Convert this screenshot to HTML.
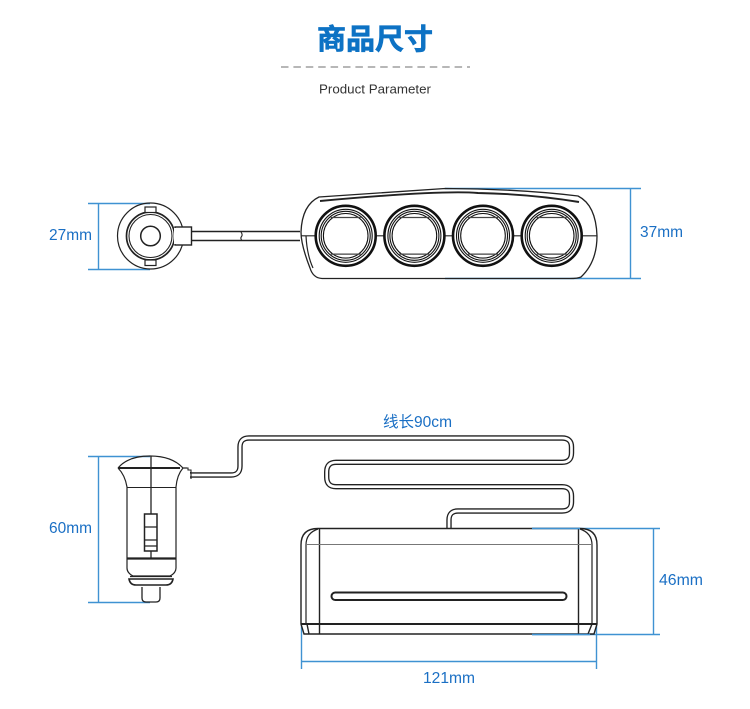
<!DOCTYPE html>
<html>
<head>
<meta charset="utf-8">
<style>
html,body{margin:0;padding:0;background:#fff;}
svg{display:block;}
.l{font-family:"Liberation Sans","Noto Sans CJK SC",sans-serif;font-size:15.5px;fill:#1a6fc4;}
</style>
</head>
<body>
<svg width="750" height="709" viewBox="0 0 750 709" xmlns="http://www.w3.org/2000/svg">
<rect width="750" height="709" fill="#fff"/>
<text x="375" y="49" text-anchor="middle" textLength="116" lengthAdjust="spacingAndGlyphs" font-family="'Noto Sans CJK SC',sans-serif" font-weight="700" font-size="28.500" fill="#0d72c4" stroke="#0d72c4" stroke-width="0.700">商品尺寸</text>
<line x1="281" y1="67" x2="470" y2="67" stroke="#8c8c8c" stroke-width="1.200" stroke-dasharray="7.500 4.900"/>
<text x="375" y="93.500" text-anchor="middle" textLength="112" lengthAdjust="spacingAndGlyphs" font-family="'Liberation Sans',sans-serif" font-size="13" fill="#333">Product Parameter</text>

<!-- dimension lines -->
<g stroke="#3f92d2" stroke-width="1.400" fill="none">
<path d="M88 203.500H150M88 269.500H150M98.500 203V270"/>
<path d="M445 188.500H641M445 278.500H641M630.500 188V279"/>
<path d="M88 456.500H150M88 602.500H150M98.500 456V603"/>
<path d="M532 528.500H660M532 634.500H660M653.500 528V635"/>
<path d="M301.500 602V669M596.500 622V669M301 661.500H597"/>
</g>

<!-- top-left plug -->
<g fill="none" stroke="#222" stroke-width="1.200">
<circle cx="150.500" cy="236" r="33"/>
<circle cx="150.500" cy="236" r="24" stroke-width="1.700"/>
<circle cx="150.500" cy="236" r="21.500" stroke-width="1.100"/>
<circle cx="150.500" cy="236" r="9.800" stroke-width="1.500"/>
<rect x="145" y="207" width="11" height="5.500" fill="#fff"/>
<rect x="145" y="260" width="11" height="5.500" fill="#fff"/>
<rect x="175" y="227" width="16.500" height="18" fill="#fff" stroke-width="1.400"/>
<path d="M175 228v16" stroke="#fff" stroke-width="2"/>
<path d="M191 231.500H300M191 240.500H300" stroke-width="1.500"/>
<path d="M241 232q2 3 0.500 4.500q-1.500 2 0.500 4" stroke-width="1.100"/>
</g>

<!-- four socket body -->
<g fill="none" stroke="#222">
<path d="M319 197L445 188.500Q520 189 578 196Q596 205 597 236Q597 262 581 277Q578 278.500 570 278.500H322Q313 278 310 268Q301 245 301 232Q302 205 319 197Z" stroke-width="1.300"/>
<path d="M320 201Q440 190 478 193Q530 194 579 202" stroke-width="1.900"/>
<path d="M301 235.800H315M376 235.800H384M445 235.800H453M514 235.800H522M583 235.800H597" stroke-width="1.200"/>
<path d="M306 236Q307 255 313 268" stroke-width="1.200"/>
</g>
<defs>
<g id="sock" fill="none" stroke="#111">
<circle r="30" stroke-width="2.600"/>
<circle r="26.500" stroke-width="1.100"/>
<circle r="24.500" stroke-width="1.100"/>
<circle r="22.300" stroke-width="1.100"/>
<path d="M-15 -18.300H15M-15 18.300H15" stroke="#444" stroke-width="1.200"/>
</g>
</defs>
<use href="#sock" x="345.700" y="235.800"/>
<use href="#sock" x="414.400" y="235.800"/>
<use href="#sock" x="483" y="235.800"/>
<use href="#sock" x="551.700" y="235.800"/>

<!-- cable -->
<path d="M190 475H231Q240 475 240 466V447Q240 438 249 438H562Q571.500 438 571.500 447V453Q571.500 462.300 562 462.300H336Q326.700 462.300 326.700 472V477Q326.700 486.700 336 486.700H562Q571.500 486.700 571.500 496V502Q571.500 511 562 511H458Q449 511 449 520V528" fill="none" stroke="#222" stroke-width="5.400"/>
<path d="M190 475H231Q240 475 240 466V447Q240 438 249 438H562Q571.500 438 571.500 447V453Q571.500 462.300 562 462.300H336Q326.700 462.300 326.700 472V477Q326.700 486.700 336 486.700H562Q571.500 486.700 571.500 496V502Q571.500 511 562 511H458Q449 511 449 520V529" fill="none" stroke="#fff" stroke-width="2.700"/>

<!-- side plug -->
<g fill="none" stroke="#222" stroke-width="1.200">
<path d="M118 468Q128 456 150 456Q172 456 183 468H187"/>
<path d="M118 468H180" stroke-width="2"/>
<path d="M118 468Q125 475 127 487V568Q127 573 133 576H170Q176 573 176 568V487Q177 475 183 468"/>
<path d="M127 487.500H176" stroke-width="0.900"/>
<path d="M127 558.500H176" stroke-width="2.200"/>
<path d="M151 456V514M151 551V558" stroke-width="1.300"/>
<rect x="144.500" y="514" width="12.500" height="37" stroke-width="1.500"/>
<path d="M145 527H157M145 540H157M145 546H157"/>
<path d="M129 579Q130 585 136 585H166Q172 585 173 579Z" stroke-width="1.600"/>
<path d="M130 576.500H172"/>
<path d="M142 587V598Q142 602 146 602H156Q160 602 160 598V587" stroke-width="1.300"/>
<path d="M183 468H188V470H191V479M191 472.500H190" stroke-width="1.100"/>
</g>

<!-- bottom body -->
<g fill="none" stroke="#222" stroke-width="1.400">
<path d="M301 624V545Q301 528.500 318 528.500H580Q597 528.500 597 545V624L594 634H304Z" fill="#fff"/>
<path d="M306 624V545Q306 533 318 529M592 624V545Q592 533 580 529" stroke-width="1.200"/>
<path d="M319.500 529V634M578.500 529V634"/>
<path d="M306 544.500H592" stroke="#777" stroke-width="1"/>
<path d="M301 624H597" stroke-width="1.900"/>
<path d="M307 624L309 634M592 624L588 634"/>
<rect x="331.500" y="592.500" width="235" height="7.500" rx="3.750" stroke-width="2"/>
</g>
<g stroke="#3f92d2" stroke-width="1.400" fill="none"><path d="M532 528.500H580M532 634.500H590"/></g>

<!-- labels -->
<text class="l" x="49" y="240" textLength="43" lengthAdjust="spacingAndGlyphs">27mm</text>
<text class="l" x="640" y="237" textLength="43" lengthAdjust="spacingAndGlyphs">37mm</text>
<text class="l" x="49" y="533" textLength="43" lengthAdjust="spacingAndGlyphs">60mm</text>
<text class="l" x="659" y="585" textLength="44" lengthAdjust="spacingAndGlyphs">46mm</text>
<text class="l" x="423" y="683" textLength="52" lengthAdjust="spacingAndGlyphs">121mm</text>
<text class="l" x="383" y="427" textLength="69" lengthAdjust="spacingAndGlyphs">线长90cm</text>
</svg>
</body>
</html>
